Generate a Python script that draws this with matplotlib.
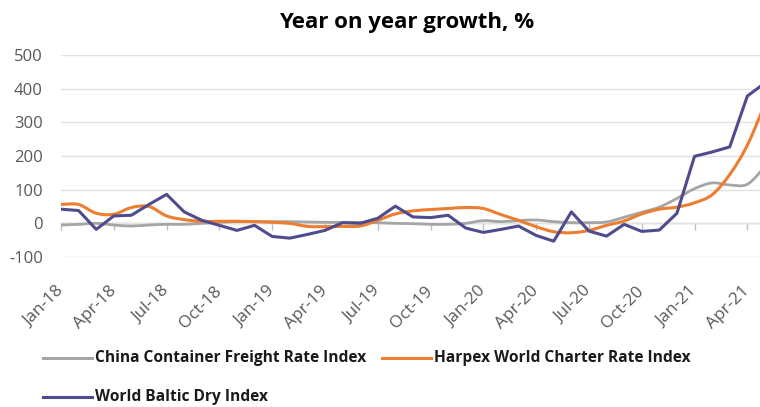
import matplotlib
matplotlib.use("Agg")
import matplotlib.pyplot as plt
from matplotlib.path import Path
from matplotlib.patches import PathPatch
from matplotlib.lines import Line2D
from matplotlib.ticker import FixedLocator, MultipleLocator
import numpy as np

plt.rcParams["axes.unicode_minus"] = False

# Monthly observations, Jan-2018 .. May-2021
months = ["Jan-18", "Feb-18", "Mar-18", "Apr-18", "May-18", "Jun-18", "Jul-18", "Aug-18",
          "Sep-18", "Oct-18", "Nov-18", "Dec-18", "Jan-19", "Feb-19", "Mar-19", "Apr-19",
          "May-19", "Jun-19", "Jul-19", "Aug-19", "Sep-19", "Oct-19", "Nov-19", "Dec-19",
          "Jan-20", "Feb-20", "Mar-20", "Apr-20", "May-20", "Jun-20", "Jul-20", "Aug-20",
          "Sep-20", "Oct-20", "Nov-20", "Dec-20", "Jan-21", "Feb-21", "Mar-21", "Apr-21",
          "May-21"]

ccfi = [-5, -3, 0, -5, -8, -5, -3, -3, 0, 3, 5, 5, 5, 5, 4, 3, 3, 3, 2, 0,
        -1, -3, -3, 0, 8, 5, 8, 10, 5, 2, 2, 4, 18, 33, 48, 74, 103, 120, 114, 116,
        168]
harpex = [56, 56, 30, 27, 47, 50, 22, 11, 6, 6, 6, 5, 3, 0, -9, -10, -9, -8, 9, 28,
          37, 41, 44, 47, 44, 26, 9, -10, -25, -28, -21, -6, 7, 28, 42, 48, 61, 85, 145, 232,
          355]
bdi = [42, 38, -18, 22, 24, 56, 86, 34, 9, -6, -21, -6, -39, -44, -33, -21, 2, 0, 15, 51,
       19, 17, 24, -14, -27, -18, -8, -36, -53, 34, -23, -38, -3, -24, -20, 30, 199, 212, 227, 378,
       417]

series_names = ["China Container Freight Rate Index",
                "Harpex World Charter Rate Index",
                "World Baltic Dry Index"]
tick_labels = months[0:40:3]
y_ticks = [-100, 0, 100, 200, 300, 400, 500]

GRAY = "#A5A5A5"
ORANGE = "#ED7D31"
BLUE = "#4F4C8E"
TEXT = "#595959"
FONT = "Open Sans"


def smooth_path(x, y):
    """Cubic Bezier path through every point (Catmull-Rom style smoothing)."""
    x = np.asarray(x, float)
    y = np.asarray(y, float)
    pts = np.column_stack([x, y])
    verts = [pts[0]]
    codes = [Path.MOVETO]
    n = len(pts)
    for i in range(n - 1):
        p0 = pts[i - 1] if i > 0 else pts[i]
        p1 = pts[i]
        p2 = pts[i + 1]
        p3 = pts[i + 2] if i + 2 < n else pts[i + 1]
        c1 = p1 + (p2 - p0) / 6.0
        c2 = p2 - (p3 - p1) / 6.0
        verts += [c1, c2, p2]
        codes += [Path.CURVE4] * 3
    return Path(verts, codes)


fig = plt.figure(figsize=(7.6, 4.07), dpi=100)
ax = fig.add_axes([61 / 760, 1 - 257 / 407, 1 - 61 / 760, (257 - 55) / 407])

x = np.arange(len(months))

# gridlines
ax.set_ylim(-100, 500)
ax.set_xlim(0, 39.72)
ax.yaxis.set_major_locator(FixedLocator(y_ticks))
ax.grid(axis="y", color="#E3E3E3", linewidth=1.0)
ax.set_axisbelow(True)
for s in ax.spines.values():
    s.set_visible(False)

# series
ax.add_patch(PathPatch(smooth_path(x, ccfi), facecolor="none", edgecolor=GRAY,
                       linewidth=2.0, capstyle="round", joinstyle="round", zorder=3))
ax.add_patch(PathPatch(smooth_path(x, harpex), facecolor="none", edgecolor=ORANGE,
                       linewidth=2.2, capstyle="round", joinstyle="round", zorder=4))
ax.plot(x, bdi, color=BLUE, linewidth=2.2, solid_joinstyle="round", zorder=5)

# category axis drawn at zero
zero_axis = ax.secondary_xaxis(100 / 600)
zero_axis.spines["bottom"].set_color("#BFBFBF")
zero_axis.spines["bottom"].set_linewidth(1.0)
zero_axis.xaxis.set_major_locator(MultipleLocator(3))
zero_axis.tick_params(axis="x", length=5, width=1.0, color="#BFBFBF", labelbottom=False)

# tick labels
ax.set_xticks(np.arange(0, 40, 3))
ax.set_xticklabels(tick_labels)
ax.tick_params(axis="x", length=0, pad=23, labelsize=12.3, labelcolor=TEXT)
for lbl in ax.get_xticklabels():
    lbl.set_rotation(45)
    lbl.set_ha("right")
    lbl.set_va("center")
    lbl.set_rotation_mode("anchor")
    lbl.set_fontfamily(FONT)

ax.tick_params(axis="y", length=0, pad=13, labelsize=12, labelcolor=TEXT)
for lbl in ax.get_yticklabels():
    lbl.set_fontfamily(FONT)

# title
fig.text(407 / 760, 1 - 28 / 407, "Year on year growth, %", ha="center", va="baseline",
         fontsize=16, fontweight="bold", family=FONT, color="#000000")

# legend
entries = [(GRAY, series_names[0], 43, 358),
           (ORANGE, series_names[1], 382, 358),
           (BLUE, series_names[2], 43, 397)]
for color, name, px, py in entries:
    yy = 1 - py / 407
    fig.add_artist(Line2D([px / 760, (px + 49) / 760], [yy, yy], color=color,
                          linewidth=2.2, transform=fig.transFigure))
    fig.text((px + 52) / 760, yy, name, ha="left", va="center", fontsize=11.2,
             fontweight="bold", family=FONT, color="#1A1A1A")

fig.savefig("out.png", dpi=100)
